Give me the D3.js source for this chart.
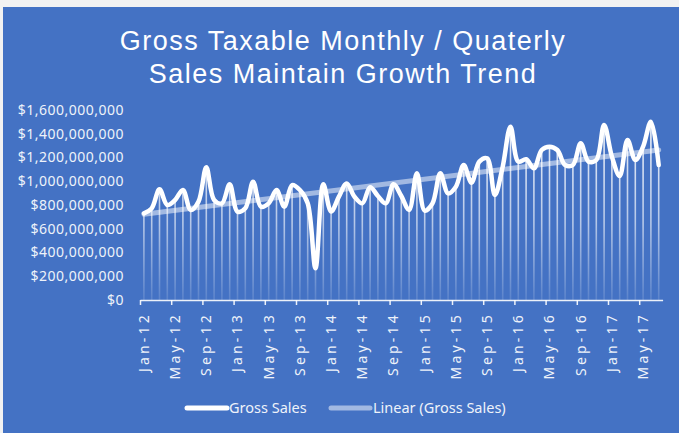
<!DOCTYPE html>
<html>
<head>
<meta charset="utf-8">
<script src="https://cdn.jsdelivr.net/npm/d3@7"></script>
<style>
  html, body { margin: 0; padding: 0; background: #f2f2f2; }
  svg { display: block; }
</style>
</head>
<body>
<svg id="chart" width="679" height="433"></svg>
<script>
// ---- data ----
const titleLines = ["Gross Taxable Monthly / Quaterly", "Sales Maintain Growth Trend"];
const startMonth = new Date(2012, 0, 1);
const endMonth = new Date(2017, 7, 1); // exclusive
const categories = d3.timeMonth.range(startMonth, endMonth).map(d3.timeFormat("%b-%y"));
// Gross sales, in millions of dollars (Jan-12 .. Jul-17)
const grossSales = [
  730, 772, 932, 800, 842, 926, 758, 828, 1117, 842, 814, 974,
  744, 772, 996, 786, 814, 926, 786, 968, 926, 814, 267, 975,
  745, 870, 982, 870, 814, 949, 876, 814, 974, 876, 758, 1067,
  752, 814, 1067, 898, 954, 1137, 988, 1165, 1193, 884, 1123, 1459,
  1165, 1185, 1109, 1263, 1291, 1263, 1137, 1137, 1320, 1165, 1179, 1474,
  1207, 1044, 1347, 1179, 1291, 1502, 1137
];
const yTicks = [0, 200e6, 400e6, 600e6, 800e6, 1000e6, 1200e6, 1400e6, 1600e6];
const xTickLabels = ["Jan-12","May-12","Sep-12","Jan-13","May-13","Sep-13","Jan-14","May-14","Sep-14",
                     "Jan-15","May-15","Sep-15","Jan-16","May-16","Sep-16","Jan-17","May-17"];
const legendLabels = ["Gross Sales", "Linear (Gross Sales)"];

// ---- setup ----
const svg = d3.select("#chart");
const W = 679, H = 433;
const BLUE = "#4472C4";
const TREND = "rgba(255,255,255,0.5)";
const LABEL = "#eef2fa";

svg.append("rect").attr("x", 3).attr("y", 7).attr("width", W - 3).attr("height", H - 7).attr("fill", BLUE);

// title
svg.append("g").selectAll("text").data(titleLines).join("text")
  .attr("x", 343).attr("y", (d, i) => 50 + i * 33)
  .attr("text-anchor", "middle")
  .attr("fill", "#ffffff")
  .attr("font-family", "'Liberation Sans', Arial, sans-serif")
  .attr("font-size", 27)
  .attr("letter-spacing", 1.5)
  .text(d => d);

const values = grossSales.map(v => v * 1e6);
const idx = d3.range(categories.length);

const x = d3.scaleBand().domain(idx).range([140, 662.6]).padding(0);
const xc = i => x(i) + x.bandwidth() / 2;
const y = d3.scaleLinear().domain([0, 1.6e9]).range([300, 110]);

// y axis
const yAxis = svg.append("g").attr("transform", "translate(127,0)")
  .call(d3.axisLeft(y).tickValues(yTicks).tickSize(0).tickPadding(3).tickFormat(d3.format("$,")));
yAxis.select(".domain").remove();
yAxis.selectAll("text")
  .attr("fill", LABEL)
  .attr("font-family", "'Noto Sans', 'Open Sans', sans-serif")
  .attr("font-size", 14)
  .attr("letter-spacing", 0.5);

// gradient for drop lines
const defs = svg.append("defs");
const grad = defs.append("linearGradient").attr("id", "dropGrad")
  .attr("gradientUnits", "userSpaceOnUse").attr("x1", 0).attr("x2", 0).attr("y1", 110).attr("y2", 300);
grad.append("stop").attr("offset", 0).attr("stop-color", "#fff").attr("stop-opacity", 0.95);
grad.append("stop").attr("offset", 0.6).attr("stop-color", "#fff").attr("stop-opacity", 0.6);
grad.append("stop").attr("offset", 1).attr("stop-color", "#fff").attr("stop-opacity", 0.12);

// drop lines
svg.append("g").selectAll("line").data(idx).join("line")
  .attr("x1", i => xc(i)).attr("x2", i => xc(i))
  .attr("y1", i => y(values[i])).attr("y2", y(0))
  .attr("stroke", "url(#dropGrad)").attr("stroke-width", 1.6);

// x axis
const xl = d3.scaleLinear().domain([0, categories.length]).range([140, 662.6]);
const xAxis = svg.append("g").attr("transform", `translate(0,${y(0)})`)
  .call(d3.axisBottom(xl).tickValues(d3.range(0, categories.length, 4)).tickSizeInner(5).tickSizeOuter(0).tickFormat(""));
xAxis.select(".domain").attr("stroke", "rgba(255,255,255,0.9)").attr("stroke-width", 1.5);
xAxis.selectAll(".tick line").attr("stroke", "rgba(255,255,255,0.9)").attr("stroke-width", 1.5);

// x labels
svg.append("g").selectAll("text").data(xTickLabels).join("text")
  .attr("transform", (d, k) => `translate(${xc(k * 4)},312) rotate(-90)`)
  .attr("text-anchor", "end")
  .attr("dy", "0.35em")
  .attr("fill", LABEL)
  .attr("font-family", "'Noto Sans', 'Open Sans', sans-serif")
  .attr("font-size", 14)
  .attr("letter-spacing", 3.2)
  .text(d => d);

// linear trend (least squares on the data)
const n = values.length;
const mx = d3.mean(idx), my = d3.mean(values);
const slope = d3.sum(idx, i => (i - mx) * (values[i] - my)) / d3.sum(idx, i => (i - mx) * (i - mx));
const icpt = my - slope * mx;
svg.append("line")
  .attr("x1", xc(0)).attr("y1", y(icpt))
  .attr("x2", xc(n - 1)).attr("y2", y(icpt + slope * (n - 1)))
  .attr("stroke", TREND).attr("stroke-width", 5).attr("stroke-linecap", "round");

// main line
const line = d3.line().x(i => xc(i)).y(i => y(values[i])).curve(d3.curveCatmullRom.alpha(0.5));
svg.append("path").datum(idx)
  .attr("d", line)
  .attr("fill", "none").attr("stroke", "#ffffff").attr("stroke-width", 4.5)
  .attr("stroke-linejoin", "round").attr("stroke-linecap", "round");

// legend
const leg = svg.append("g");
const legItems = [
  { x1: 187, x2: 227, tx: 229, color: "#ffffff", label: legendLabels[0] },
  { x1: 331, x2: 370, tx: 373, color: TREND, label: legendLabels[1] }
];
legItems.forEach(it => {
  leg.append("line").attr("x1", it.x1).attr("x2", it.x2).attr("y1", 408).attr("y2", 408)
    .attr("stroke", it.color).attr("stroke-width", 5).attr("stroke-linecap", "round");
  leg.append("text").attr("x", it.tx).attr("y", 408).attr("dy", "0.35em")
    .attr("fill", LABEL)
    .attr("font-family", "'Noto Sans', 'Open Sans', sans-serif")
    .attr("font-size", 14.5)
    .text(it.label);
});
</script>
</body>
</html>
